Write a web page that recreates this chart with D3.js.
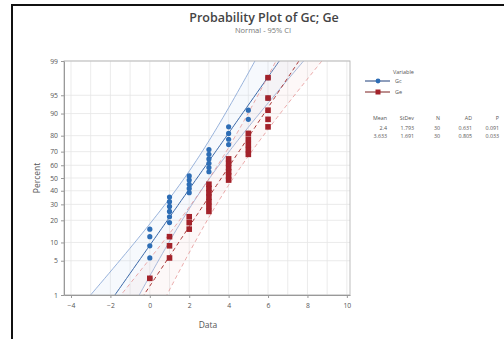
<!DOCTYPE html>
<html>
<head>
<meta charset="utf-8">
<script src="https://cdn.jsdelivr.net/npm/d3@7"></script>
<style>
  body { margin: 0; background: #fff; }
  text { font-family: "Open Sans", "DejaVu Sans", sans-serif; }
</style>
</head>
<body>
<div id="chart"></div>
<script>
// observed values (integers) and how many times each occurs
const dataValues = [0, 1, 2, 3, 4, 5, 6];
const gcCounts = [5, 6, 5, 6, 4, 2, 2];
const geCounts = [1, 3, 3, 7, 6, 5, 5];

// summary table
const statHeaders = ['Mean', 'StDev', 'N', 'AD', 'P'];
const gcStats = ['2.4', '1.793', '30', '0.631', '0.091'];
const geStats = ['3.633', '1.691', '30', '0.805', '0.033'];
const gcMean = 2.4, gcSd = 1.793;
const geMean = 3.633, geSd = 1.691;

const xTicks = [-4, -2, 0, 2, 4, 6, 8, 10];
const yTicks = [1, 5, 10, 20, 30, 40, 50, 60, 70, 80, 90, 95, 99];

const width = 504, height = 339;
const plot = { left: 64, top: 61, right: 350, bottom: 295 };

// inverse normal cdf (Acklam)
function qnorm(p) {
  const a = [-39.69683028665376, 220.9460984245205, -275.9285104469687, 138.3577518672690, -30.66479806614716, 2.506628277459239];
  const b = [-54.47609879822406, 161.5858368580409, -155.6989798598866, 66.80131188771972, -13.28068155288572];
  const c = [-0.007784894002430293, -0.3223964580411365, -2.400758277161838, -2.549732539343734, 4.374664141464968, 2.938163982698783];
  const d = [0.007784695709041462, 0.3224671290700398, 2.445134137142996, 3.754408661907416];
  const pl = 0.02425;
  let q, r;
  if (p < pl) {
    q = Math.sqrt(-2 * Math.log(p));
    return (((((c[0]*q+c[1])*q+c[2])*q+c[3])*q+c[4])*q+c[5]) / ((((d[0]*q+d[1])*q+d[2])*q+d[3])*q+1);
  } else if (p <= 1 - pl) {
    q = p - 0.5; r = q * q;
    return (((((a[0]*r+a[1])*r+a[2])*r+a[3])*r+a[4])*r+a[5])*q / (((((b[0]*r+b[1])*r+b[2])*r+b[3])*r+b[4])*r+1);
  } else {
    q = Math.sqrt(-2 * Math.log(1 - p));
    return -(((((c[0]*q+c[1])*q+c[2])*q+c[3])*q+c[4])*q+c[5]) / ((((d[0]*q+d[1])*q+d[2])*q+d[3])*q+1);
  }
}

const x = d3.scaleLinear().domain([-4.355, 10.16]).range([plot.left, plot.right]);
const y = d3.scaleLinear().domain([qnorm(0.01), qnorm(0.99)]).range([plot.bottom, plot.top]);

// expand counts into ranked points, median ranks (i - 0.3)/(n + 0.4)
function rankPoints(counts) {
  const vals = [];
  counts.forEach((c, k) => { for (let j = 0; j < c; j++) vals.push(dataValues[k]); });
  const n = vals.length;
  return vals.map((v, i) => ({ v: v, z: qnorm((i + 1 - 0.3) / (n + 0.4)) }));
}
const gcPts = rankPoints(gcCounts);
const gePts = rankPoints(geCounts);

const svg = d3.select('#chart').append('svg')
  .attr('width', width).attr('height', height);

svg.append('rect').attr('width', width).attr('height', height).attr('fill', '#fff');
// outer frame
svg.append('rect')
  .attr('x', 12).attr('y', 5).attr('width', 600).attr('height', 400)
  .attr('fill', 'none').attr('stroke', '#111').attr('stroke-width', 2);

// title
svg.append('text').attr('x', 264).attr('y', 22).attr('text-anchor', 'middle')
  .attr('font-size', 12.5).attr('font-weight', 600).attr('fill', '#444')
  .text('Probability Plot of Gc; Ge');
svg.append('text').attr('x', 263).attr('y', 32.5).attr('text-anchor', 'middle')
  .attr('font-size', 7.5).attr('fill', '#777')
  .text('Normal - 95% CI');

svg.append('defs').append('clipPath').attr('id', 'clip')
  .append('rect').attr('x', plot.left).attr('y', plot.top)
  .attr('width', plot.right - plot.left).attr('height', plot.bottom - plot.top);

// grid
const grid = svg.append('g');
grid.selectAll('.vg').data(d3.range(-4, 11)).enter().append('line')
  .attr('x1', d => x(d)).attr('x2', d => x(d))
  .attr('y1', plot.top).attr('y2', plot.bottom)
  .attr('stroke', '#e6e6e6').attr('stroke-width', 0.8);
grid.selectAll('.hg').data(yTicks).enter().append('line')
  .attr('x1', plot.left).attr('x2', plot.right)
  .attr('y1', d => y(qnorm(d / 100))).attr('y2', d => y(qnorm(d / 100)))
  .attr('stroke', '#e6e6e6').attr('stroke-width', 0.8);

// fit lines and CI bands
const zs = d3.range(-2.5, 2.51, 0.05);
function band(mean, sd, n, sign) {
  return zs.map(z => ({ z: z, v: mean + z * sd + sign * 1.96 * sd * Math.sqrt((1 + z * z / 2) / n) }));
}
const line = d3.line().x(d => x(d.v)).y(d => y(d.z));
const area = d3.area().y(d => y(d.z))
  .x0(d => x(d.mean + d.z * d.sd - 1.96 * d.sd * Math.sqrt((1 + d.z * d.z / 2) / 30)))
  .x1(d => x(d.mean + d.z * d.sd + 1.96 * d.sd * Math.sqrt((1 + d.z * d.z / 2) / 30)));

const lines = svg.append('g').attr('clip-path', 'url(#clip)');
function drawSeries(mean, sd, fillCol, fitCol, ciCol, dash) {
  lines.append('path').datum(zs.map(z => ({ z: z, mean: mean, sd: sd })))
    .attr('d', area).attr('fill', fillCol).attr('opacity', 0.18);
  [-1, 1].forEach(s => {
    lines.append('path').datum(band(mean, sd, 30, s)).attr('d', line)
      .attr('fill', 'none').attr('stroke', ciCol).attr('stroke-width', 0.8)
      .attr('stroke-dasharray', dash);
  });
  lines.append('path').datum(band(mean, sd, 30, 0)).attr('d', line)
    .attr('fill', 'none').attr('stroke', fitCol).attr('stroke-width', 1)
    .attr('stroke-dasharray', dash);
}
drawSeries(gcMean, gcSd, '#cfe0f5', '#3a68a8', '#7f9fd2', null);
drawSeries(geMean, geSd, '#f6d6d6', '#a83434', '#e49494', '4,3');

// points
svg.append('g').selectAll('circle').data(gcPts).enter().append('circle')
  .attr('cx', d => x(d.v)).attr('cy', d => y(d.z)).attr('r', 2.6)
  .attr('fill', '#2d6db5');
svg.append('g').selectAll('rect').data(gePts).enter().append('rect')
  .attr('x', d => x(d.v) - 2.8).attr('y', d => y(d.z) - 2.8)
  .attr('width', 5.6).attr('height', 5.6).attr('fill', '#a3222a');

// plot frame
svg.append('rect').attr('x', plot.left).attr('y', plot.top)
  .attr('width', plot.right - plot.left).attr('height', plot.bottom - plot.top)
  .attr('fill', 'none').attr('stroke', '#b5b5b5').attr('stroke-width', 0.9);

// axes
const xAxis = svg.append('g').attr('transform', `translate(0,${plot.bottom})`)
  .call(d3.axisBottom(x).tickValues(xTicks).tickSize(3).tickSizeOuter(0).tickPadding(5));
const yAxis = svg.append('g').attr('transform', `translate(${plot.left},0)`)
  .call(d3.axisLeft(y).tickValues(yTicks.map(t => qnorm(t / 100)))
    .tickFormat((d, i) => yTicks[i]).tickSize(3).tickSizeOuter(0).tickPadding(3));
[xAxis, yAxis].forEach(a => {
  a.select('.domain').attr('stroke', '#999');
  a.selectAll('.tick line').attr('stroke', '#999');
  a.selectAll('.tick text').attr('fill', '#555').attr('font-size', 6.8)
    .style('font-family', '"Open Sans", "DejaVu Sans", sans-serif');
});

svg.append('text').attr('x', 208).attr('y', 328).attr('text-anchor', 'middle')
  .attr('font-size', 8.5).attr('fill', '#555').text('Data');
svg.append('text').attr('transform', 'translate(40,178) rotate(-90)')
  .attr('text-anchor', 'middle').attr('font-size', 8.5).attr('fill', '#555').text('Percent');

// legend
const lg = svg.append('g');
lg.append('text').attr('x', 393).attr('y', 74).attr('font-size', 5.5).attr('fill', '#555').text('Variable');
[['Gc', 81, '#1f3f7a', '#2d6db5', 'c'], ['Ge', 92, '#7a1f1f', '#a3222a', 's']].forEach(([name, ly, lc, mc, shape]) => {
  lg.append('line').attr('x1', 365).attr('x2', 390).attr('y1', ly).attr('y2', ly)
    .attr('stroke', lc).attr('stroke-width', 1);
  if (shape === 'c') lg.append('circle').attr('cx', 378).attr('cy', ly).attr('r', 2.4).attr('fill', mc);
  else lg.append('rect').attr('x', 375.5).attr('y', ly - 2.5).attr('width', 5).attr('height', 5).attr('fill', mc);
  lg.append('text').attr('x', 395).attr('y', ly + 2).attr('font-size', 5.5).attr('fill', '#555').text(name);
});

const colRight = [387, 414, 440, 472, 499];
[[statHeaders, 120], [gcStats, 129.5], [geStats, 138]].forEach(([row, ry]) => {
  lg.selectAll(null).data(row).enter().append('text')
    .attr('x', (d, i) => colRight[i]).attr('y', ry).attr('text-anchor', 'end')
    .attr('font-size', 5.3).attr('fill', '#555').text(d => d);
});
</script>
</body>
</html>
